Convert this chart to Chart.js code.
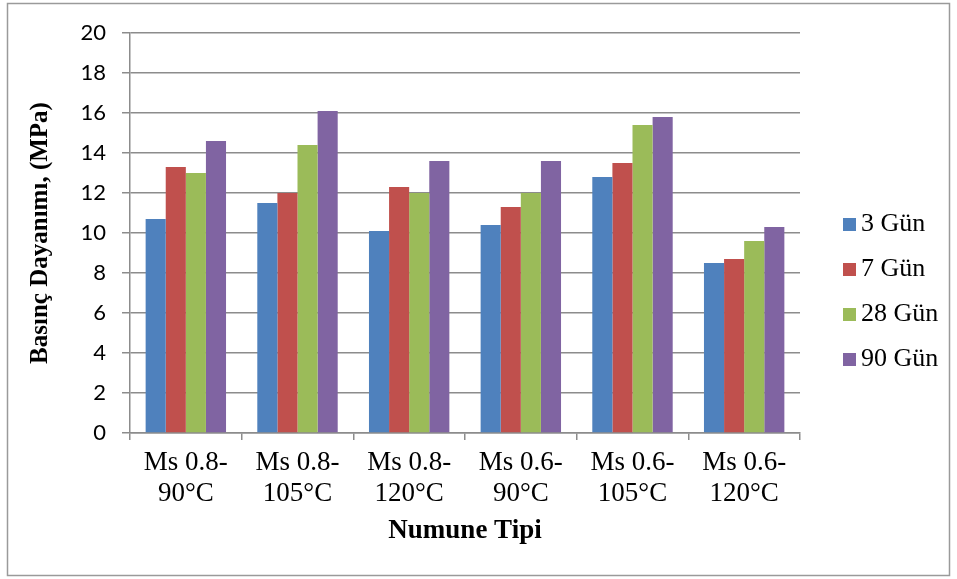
<!DOCTYPE html>
<html>
<head>
<meta charset="utf-8">
<script src="https://cdn.jsdelivr.net/npm/chart.js@4.4.1/dist/chart.umd.min.js"></script>
<style>
  html, body { margin: 0; padding: 0; background: #ffffff; }
  #wrap { width: 957px; height: 579px; position: relative; }
</style>
</head>
<body>
<div id="wrap"><canvas id="c" width="957" height="579"></canvas></div>
<script>
const categories = ["Ms 0.8-90°C", "Ms 0.8-105°C", "Ms 0.8-120°C", "Ms 0.6-90°C", "Ms 0.6-105°C", "Ms 0.6-120°C"];
const seriesNames = ["3 Gün", "7 Gün", "28 Gün", "90 Gün"];
const gun3  = [10.7, 11.5, 10.1, 10.4, 12.8, 8.5];
const gun7  = [13.3, 12.0, 12.3, 11.3, 13.5, 8.7];
const gun28 = [13.0, 14.4, 12.0, 12.0, 15.4, 9.6];
const gun90 = [14.6, 16.1, 13.6, 13.6, 15.8, 10.3];
const yTicks = [0, 2, 4, 6, 8, 10, 12, 14, 16, 18, 20];
const colors = ["#4F81BD", "#C0504D", "#9BBB59", "#8064A2"];

const seriesValues = [gun3, gun7, gun28, gun90];
const GRID = "#8c8c8c";

const frame = {
  id: "frame",
  beforeDraw(chart) {
    const ctx = chart.ctx;
    ctx.save();
    ctx.fillStyle = "#ffffff";
    ctx.fillRect(0, 0, chart.width, chart.height);
    ctx.strokeStyle = "#9a9a9a";
    ctx.lineWidth = 1.5;
    ctx.strokeRect(7.5, 3.5, 942, 572);
    ctx.restore();
  }
};

const sideLegend = {
  id: "sideLegend",
  afterDraw(chart) {
    const ctx = chart.ctx;
    ctx.save();
    ctx.font = "26px 'Liberation Serif'";
    ctx.textBaseline = "middle";
    ctx.textAlign = "left";
    chart.data.datasets.forEach((ds, i) => {
      const cy = 224.5 + i * 45;
      ctx.fillStyle = ds.backgroundColor;
      ctx.fillRect(843, cy - 6.5, 13, 13);
      ctx.fillStyle = "#000000";
      ctx.fillText(ds.label, 861, cy);
    });
    ctx.restore();
  }
};

new Chart(document.getElementById("c"), {
  type: "bar",
  data: {
    labels: categories,
    datasets: seriesNames.map((name, i) => ({
      label: name,
      data: seriesValues[i],
      backgroundColor: colors[i],
      borderWidth: 0,
      categoryPercentage: 0.72,
      barPercentage: 1.0
    }))
  },
  options: {
    responsive: false,
    animation: false,
    devicePixelRatio: 1,
    layout: { padding: { left: 7, top: 33, right: 157, bottom: 0 } },
    plugins: {
      legend: { display: false },
      tooltip: { enabled: false }
    },
    scales: {
      x: {
        offset: true,
        grid: { display: true, drawOnChartArea: false, drawTicks: true, tickLength: 7, color: GRID, lineWidth: 1.5 },
        border: { display: true, color: GRID, width: 1.5 },
        ticks: {
          color: "#000000",
          padding: 7,
          maxRotation: 0,
          autoSkip: false,
          font: { family: "'Liberation Serif'", size: 27, lineHeight: 1.15 },
          callback: function(value, index) {
            const s = categories[index];
            const k = s.indexOf("-");
            return [s.slice(0, k + 1), s.slice(k + 1)];
          }
        },
        title: {
          display: true,
          text: "Numune Tipi",
          color: "#000000",
          font: { family: "'Liberation Serif'", size: 27, weight: "bold", lineHeight: 1.2 },
          padding: { top: 0, bottom: 32 }
        },
        afterFit: function(scale) { scale.height = 146; }
      },
      y: {
        min: 0,
        max: 20,
        afterBuildTicks: function(scale) { scale.ticks = yTicks.map(v => ({ value: v })); },
        grid: { color: GRID, lineWidth: 1.5, drawTicks: true, tickLength: 8, tickColor: GRID },
        border: { display: true, color: GRID, width: 1.5 },
        ticks: {
          color: "#000000",
          padding: 16,
          font: { family: "Lato", size: 22 }
        },
        title: {
          display: true,
          text: "Basınç Dayanımı, (MPa)",
          color: "#000000",
          font: { family: "'Liberation Serif'", size: 25, weight: "bold", lineHeight: 1.2 },
          padding: { top: 19, bottom: 0 }
        },
        afterFit: function(scale) { scale.width = 123; }
      }
    }
  },
  plugins: [frame, sideLegend]
});
</script>
</body>
</html>
